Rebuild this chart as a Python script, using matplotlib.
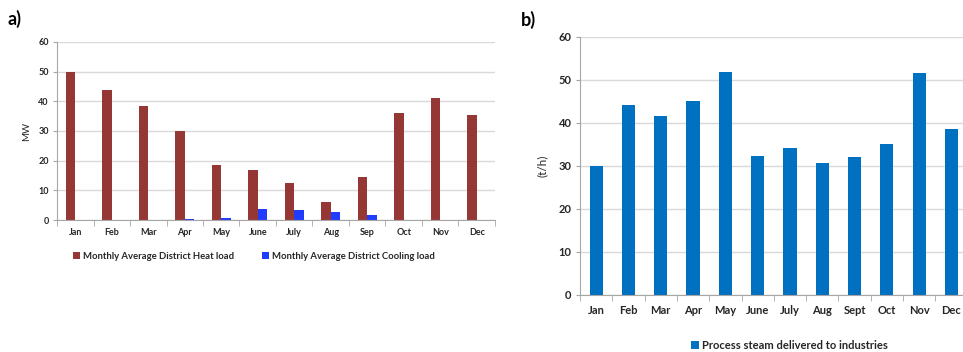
import numpy as np
import matplotlib
matplotlib.use("Agg")
import matplotlib.pyplot as plt

plt.rcParams['font.family'] = ['Lato', 'DejaVu Sans']
plt.rcParams['font.weight'] = 'bold'

# panel a data
months_a = ['Jan', 'Feb', 'Mar', 'Apr', 'May', 'June', 'July', 'Aug', 'Sep', 'Oct', 'Nov', 'Dec']
heat_load = [50.0, 43.7, 38.4, 29.9, 18.6, 16.8, 12.4, 6.2, 14.6, 36.1, 41.1, 35.4]
cooling_load = [0, 0, 0, 0.3, 0.8, 3.8, 3.3, 2.6, 1.7, 0, 0, 0]

# panel b data
months_b = ['Jan', 'Feb', 'Mar', 'Apr', 'May', 'June', 'July', 'Aug', 'Sept', 'Oct', 'Nov', 'Dec']
steam = [30.0, 44.1, 41.6, 45.0, 51.9, 32.3, 34.2, 30.6, 32.1, 35.1, 51.6, 38.6]

grid_col = '#d9d9d9'
axis_col = '#a6a6a6'
text_col = '#262626'

fig = plt.figure(figsize=(9.63, 3.52), dpi=100)


def style_axes(ax, n, fs):
    ax.set_xlim(-0.5, n - 0.5)
    ax.set_ylim(0, 60)
    ax.set_yticks(range(0, 61, 10))
    ax.set_xticks(range(n))
    ax.set_xticks(np.arange(-0.5, n, 1), minor=True)
    ax.tick_params(axis='x', which='major', length=0, pad=fs * 0.9, labelsize=fs, labelcolor=text_col)
    ax.tick_params(axis='x', which='minor', length=4, color=axis_col)
    ax.tick_params(axis='y', length=3, color=axis_col, labelsize=fs, pad=3, labelcolor=text_col)
    ax.yaxis.grid(True, color=grid_col, linewidth=1)
    ax.set_axisbelow(True)
    for s in ['top', 'right']:
        ax.spines[s].set_visible(False)
    for s in ['left', 'bottom']:
        ax.spines[s].set_color(axis_col)
    for lbl in ax.get_xticklabels() + ax.get_yticklabels():
        lbl.set_fontweight('bold')


# ---- panel a
ax1 = fig.add_axes([0.0592, 0.375, 0.4548, 0.5057])
x = np.arange(len(months_a))
w = 0.26
ax1.bar(x - w / 2, heat_load, w, color='#953735', label='Monthly Average District Heat load')
ax1.bar(x + w / 2, cooling_load, w, color='#1f3cff', label='Monthly Average District Cooling load')
ax1.set_xticks(x)
ax1.set_xticklabels(months_a)
style_axes(ax1, len(months_a), 6.5)
ax1.set_ylabel('MW', fontsize=7, labelpad=5, color=text_col)
leg1 = ax1.legend(loc='upper center', bbox_to_anchor=(0.45, -0.13), ncol=2, frameon=False,
                  fontsize=6.8, handlelength=0.7, handleheight=0.7, handletextpad=0.3, columnspacing=3)
for t in leg1.get_texts():
    t.set_color(text_col)
fig.text(0.008, 0.93, 'a)', fontsize=13, fontweight='bold')

# ---- panel b
ax2 = fig.add_axes([0.6023, 0.162, 0.4025, 0.733])
x = np.arange(len(months_b))
ax2.bar(x, steam, 0.41, color='#0070c0', label='Process steam delivered to industries')
ax2.set_xticks(x)
ax2.set_xticklabels(months_b)
style_axes(ax2, len(months_b), 8)
ax2.set_ylabel('(t/h)', fontsize=8.5, labelpad=8, color=text_col)
leg2 = ax2.legend(loc='lower center', bbox_to_anchor=(0.54, -0.255), frameon=False,
                  fontsize=8, handlelength=0.7, handleheight=0.7, handletextpad=0.3)
for t in leg2.get_texts():
    t.set_color(text_col)
fig.text(0.541, 0.925, 'b)', fontsize=13, fontweight='bold')

fig.savefig('out.png', dpi=100)
